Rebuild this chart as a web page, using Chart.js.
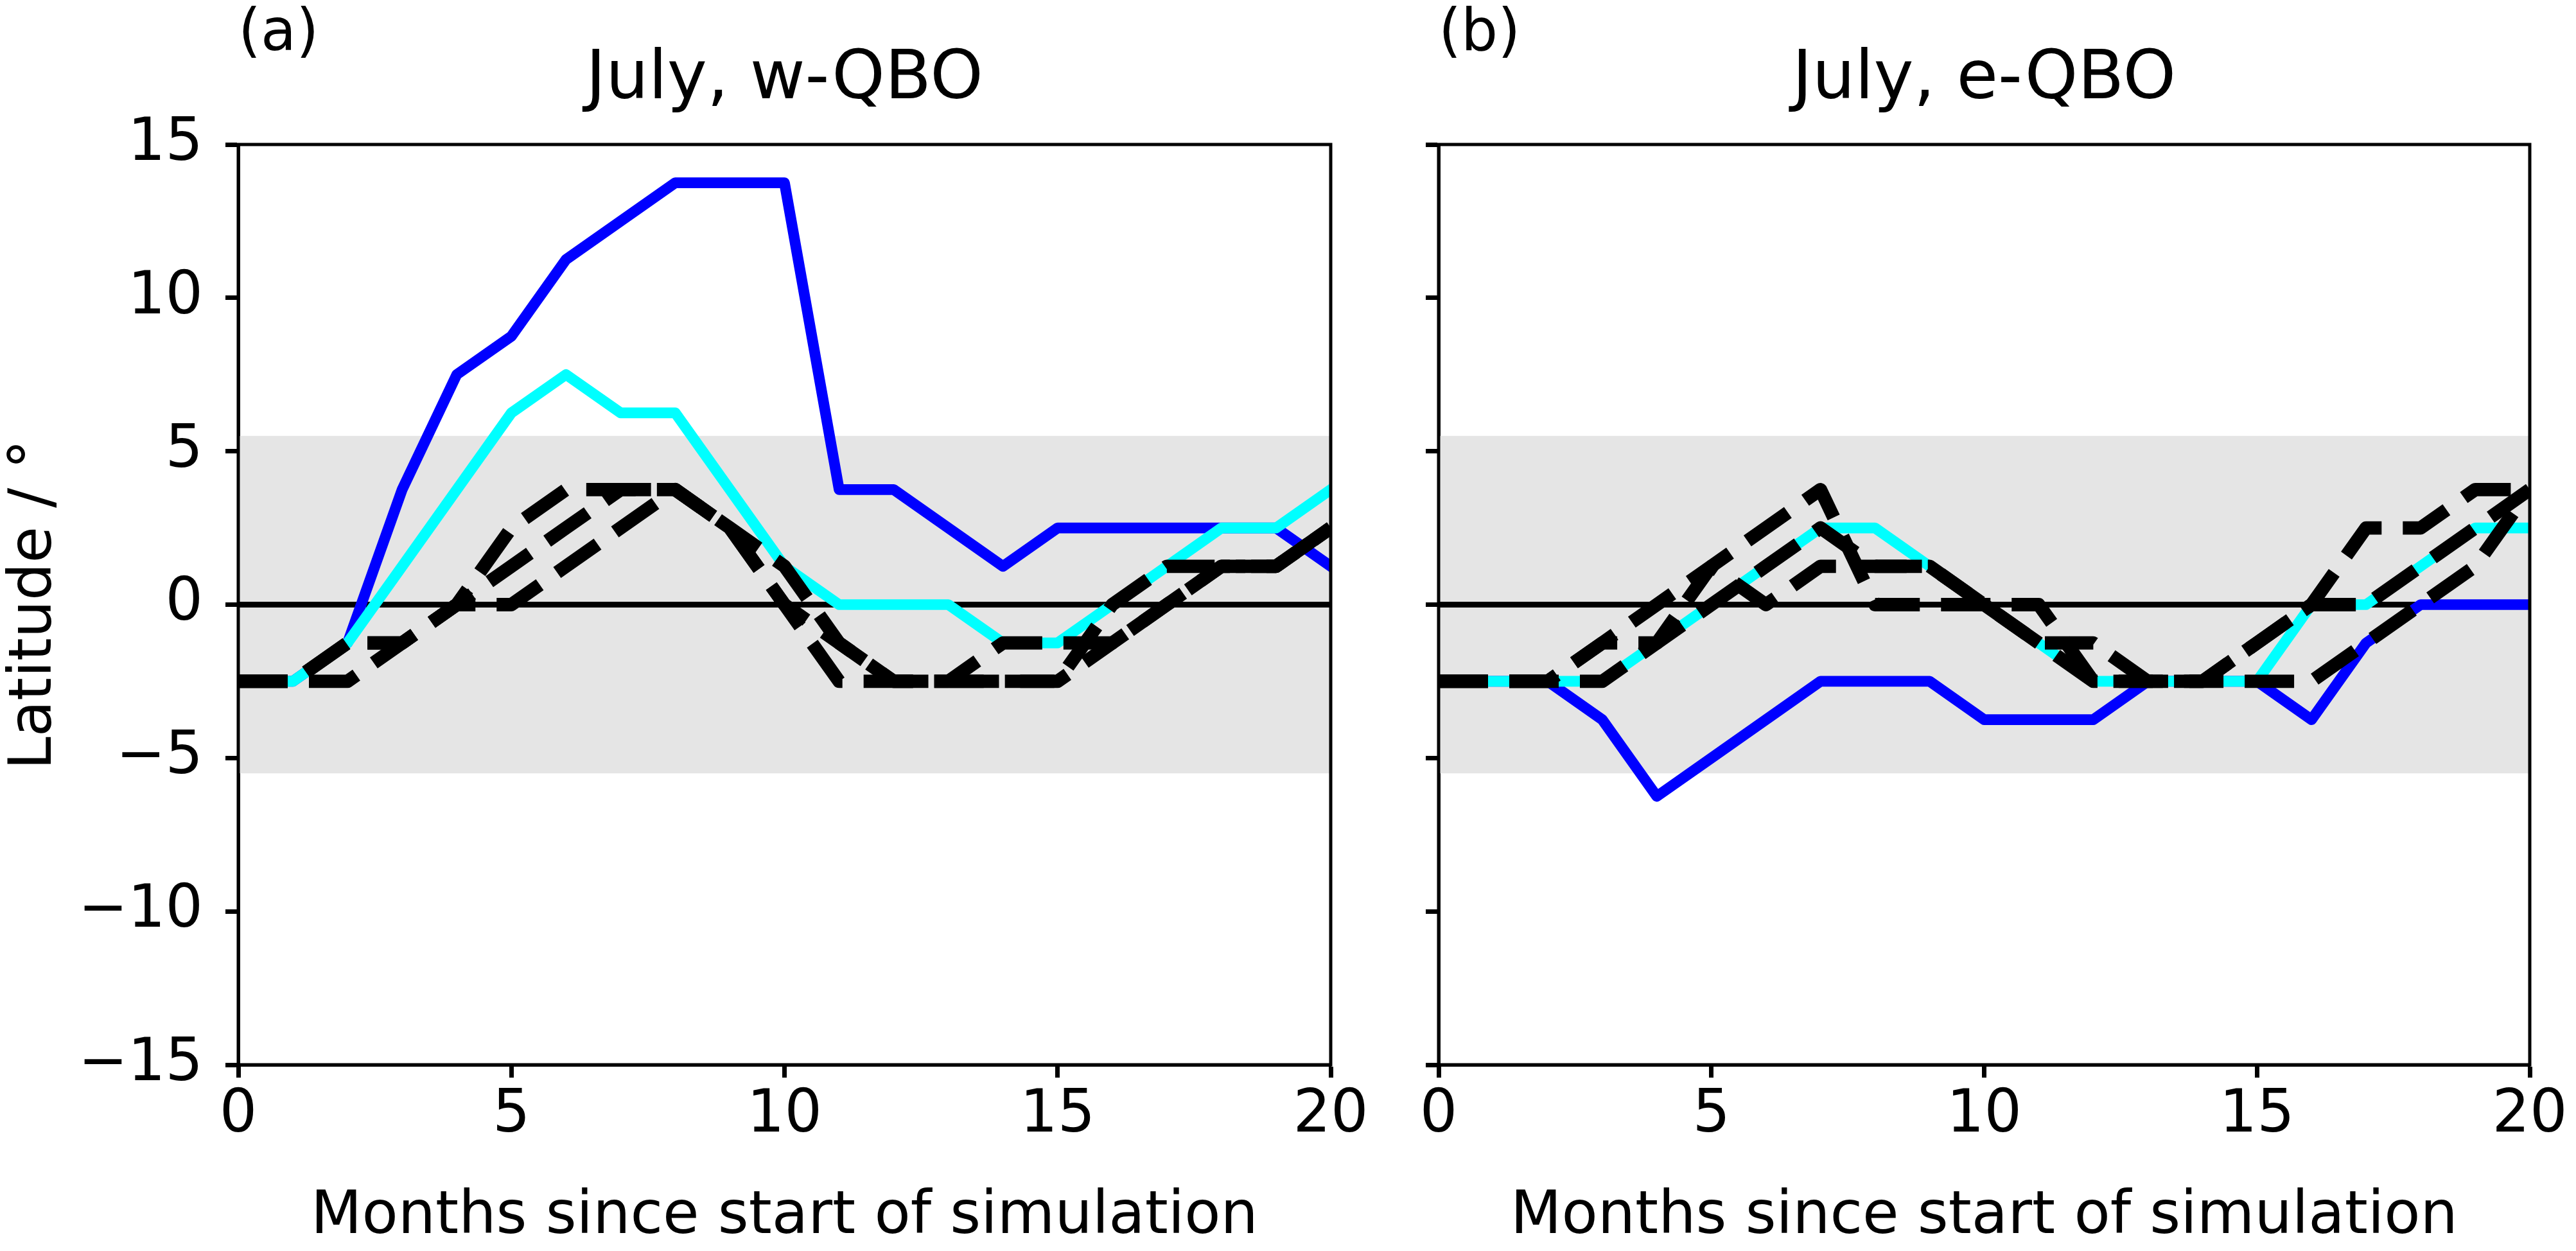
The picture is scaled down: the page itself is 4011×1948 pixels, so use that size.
<!DOCTYPE html>
<html>
<head>
<meta charset="utf-8">
<title>July QBO latitude tracks</title>
<script src="https://cdn.jsdelivr.net/npm/chart.js@4.4.1/dist/chart.umd.min.js"></script>
<style>
  html, body { margin: 0; padding: 0; background: #fff; overflow: hidden; }
  #wrap { position: relative; width: 4011px; height: 1948px; }
  canvas { position: absolute; top: 0; }
  #panelA { left: 0; }
  #panelB { left: 2140px; }
</style>
</head>
<body>
<div id="wrap">
  <canvas id="panelA" width="2140" height="1948"></canvas>
  <canvas id="panelB" width="1871" height="1948"></canvas>
</div>
<script>
// x = months since start, y = latitude (deg)
const months = [0,1,2,3,4,5,6,7,8,9,10,11,12,13,14,15,16,17,18,19,20];
const xTickValues = [0, 5, 10, 15, 20];
const yTickValues = [-15, -10, -5, 0, 5, 10, 15];
const shadedBand = [-5.5, 5.5];
const refLatitude = 0;

// (a) July, w-QBO
const wBlue  = [-2.5,-2.5,-1.25,3.75,7.5,8.75,11.25,12.5,13.75,13.75,13.75,3.75,3.75,2.5,1.25,2.5,2.5,2.5,2.5,2.5,1.25];
const wCyan  = [-2.5,-2.5,-1.25,1.25,3.75,6.25,7.5,6.25,6.25,3.75,1.25,0,0,0,-1.25,-1.25,0,1.25,2.5,2.5,3.75];
const wDash1 = [-2.5,-2.5,-1.25,-1.25,0,2.5,3.75,3.75,3.75,2.5,1.25,-1.25,-2.5,-2.5,-1.25,-1.25,-1.25,0,1.25,1.25,2.5];
const wDash2 = [-2.5,-2.5,-1.25,-1.25,0,1.25,2.5,3.75,3.75,2.5,0,-2.5,-2.5,-2.5,-2.5,-2.5,0,1.25,1.25,1.25,2.5];
const wDash3 = [-2.5,-2.5,-2.5,-1.25,0,0,1.25,2.5,3.75,2.5,0,-1.25,-2.5,-2.5,-2.5,-2.5,-1.25,0,1.25,1.25,2.5];

// (b) July, e-QBO
const eBlue  = [-2.5,-2.5,-2.5,-3.75,-6.25,-5,-3.75,-2.5,-2.5,-2.5,-3.75,-3.75,-3.75,-2.5,-2.5,-2.5,-3.75,-1.25,0,0,0];
const eCyan  = [-2.5,-2.5,-2.5,-2.5,-1.25,0,1.25,2.5,2.5,1.25,0,-1.25,-2.5,-2.5,-2.5,-2.5,0,0,1.25,2.5,2.5];
const eDash1 = [-2.5,-2.5,-2.5,-2.5,-1.25,0,1.25,2.5,1.25,1.25,0,-1.25,-2.5,-2.5,-2.5,-1.25,0,0,1.25,2.5,3.75];
const eDash2 = [-2.5,-2.5,-2.5,-1.25,0,1.25,2.5,3.75,0,0,0,0,-2.5,-2.5,-2.5,-1.25,0,2.5,2.5,3.75,3.75];
const eDash3 = [-2.5,-2.5,-2.5,-1.25,-1.25,1.25,0,1.25,1.25,1.25,0,-1.25,-1.25,-2.5,-2.5,-2.5,-2.5,-1.25,0,1.25,3.75];

Chart.defaults.font.family = "'DejaVu Sans', sans-serif";
Chart.defaults.color = '#000';

const toPoints = values => values.map((y, i) => ({ x: months[i], y }));

function buildDatasets(blue, cyan, dashed) {
  const ends = [months[0], months[months.length - 1]];
  const flat = v => ends.map(x => ({ x, y: v }));
  const common = { pointRadius: 0, pointHoverRadius: 0, pointHitRadius: 0, tension: 0, clip: 0, fill: false };
  return [
    ...dashed.map((vals, i) => ({
      ...common, label: 'dashed ' + (i + 1), data: toPoints(vals),
      borderColor: '#000', borderWidth: 20.8, borderDash: [77, 33],
      borderCapStyle: 'butt', borderJoinStyle: 'round', order: 1
    })),
    { ...common, label: 'cyan', data: toPoints(cyan), borderColor: '#00ffff', borderWidth: 16.7,
      borderCapStyle: 'square', borderJoinStyle: 'round', order: 2 },
    { ...common, label: 'blue', data: toPoints(blue), borderColor: '#0000ff', borderWidth: 16.7,
      borderCapStyle: 'square', borderJoinStyle: 'round', order: 3 },
    { ...common, label: 'zero', data: flat(refLatitude), borderColor: '#000', borderWidth: 9, order: 4 },
    { ...common, label: 'band top', data: flat(shadedBand[1]), borderColor: 'rgba(0,0,0,0)', borderWidth: 0,
      backgroundColor: '#e5e5e5', fill: '+1', order: 5 },
    { ...common, label: 'band bottom', data: flat(shadedBand[0]), borderColor: 'rgba(0,0,0,0)', borderWidth: 0, order: 6 }
  ];
}

// top and right spines
const framePlugin = {
  id: 'frame',
  afterDraw(chart) {
    const { ctx, chartArea: a } = chart;
    ctx.save();
    ctx.strokeStyle = '#000';
    ctx.lineWidth = 5;
    ctx.strokeRect(a.left, a.top, a.right - a.left, a.bottom - a.top);
    ctx.restore();
  }
};

const fmtTick = v => (v < 0 ? '\u2212' + Math.abs(v) : String(v));

function buildOptions(letter, title, yAxisWidth, rightPad, showYLabels) {
  const tickGrid = { drawOnChartArea: false, drawTicks: true, tickLength: 20, tickWidth: 7, tickColor: '#000' };
  return {
    responsive: false, animation: false, devicePixelRatio: 1, events: [],
    layout: { padding: { left: 0, right: rightPad, top: 0, bottom: 0 } },
    plugins: {
      legend: { display: false },
      tooltip: { enabled: false },
      title: { display: true, text: letter, align: 'start', fullSize: false, color: '#000',
               font: { size: 90, weight: 'normal', lineHeight: 0.4 }, padding: { top: 37, bottom: 0 } },
      subtitle: { display: true, text: title, align: 'center', fullSize: false, color: '#000',
                  font: { size: 105, weight: 'normal', lineHeight: 1 }, padding: { top: 0, bottom: 47 } }
    },
    scales: {
      x: {
        type: 'linear', min: months[0], max: months[months.length - 1],
        afterBuildTicks: s => { s.ticks = xTickValues.map(v => ({ value: v })); },
        afterFit: s => { s.height = 290; },
        ticks: { font: { size: 92 }, padding: 5, maxRotation: 0, autoSkip: false, callback: fmtTick },
        grid: tickGrid,
        border: { display: true, color: '#000', width: 5 },
        title: { display: true, text: 'Months since start of simulation', font: { size: 92, lineHeight: 1.12 }, padding: 0 }
      },
      y: {
        type: 'linear', min: yTickValues[0], max: yTickValues[yTickValues.length - 1],
        afterBuildTicks: s => { s.ticks = yTickValues.map(v => ({ value: v })); },
        afterFit: s => { s.width = yAxisWidth; },
        ticks: { display: showYLabels, font: { size: 92 }, padding: 35, autoSkip: false, callback: fmtTick },
        grid: tickGrid,
        border: { display: true, color: '#000', width: 5 },
        title: { display: showYLabels, text: 'Latitude / \u00b0', font: { size: 92 }, padding: 0 }
      }
    }
  };
}

new Chart(document.getElementById('panelA'), {
  type: 'line',
  data: { datasets: buildDatasets(wBlue, wCyan, [wDash1, wDash2, wDash3]) },
  options: buildOptions('(a)', 'July, w-QBO', 371, 68, true),
  plugins: [framePlugin]
});

new Chart(document.getElementById('panelB'), {
  type: 'line',
  data: { datasets: buildDatasets(eBlue, eCyan, [eDash1, eDash2, eDash3]) },
  options: buildOptions('(b)', 'July, e-QBO', 100, 72, false),
  plugins: [framePlugin]
});
</script>
</body>
</html>
